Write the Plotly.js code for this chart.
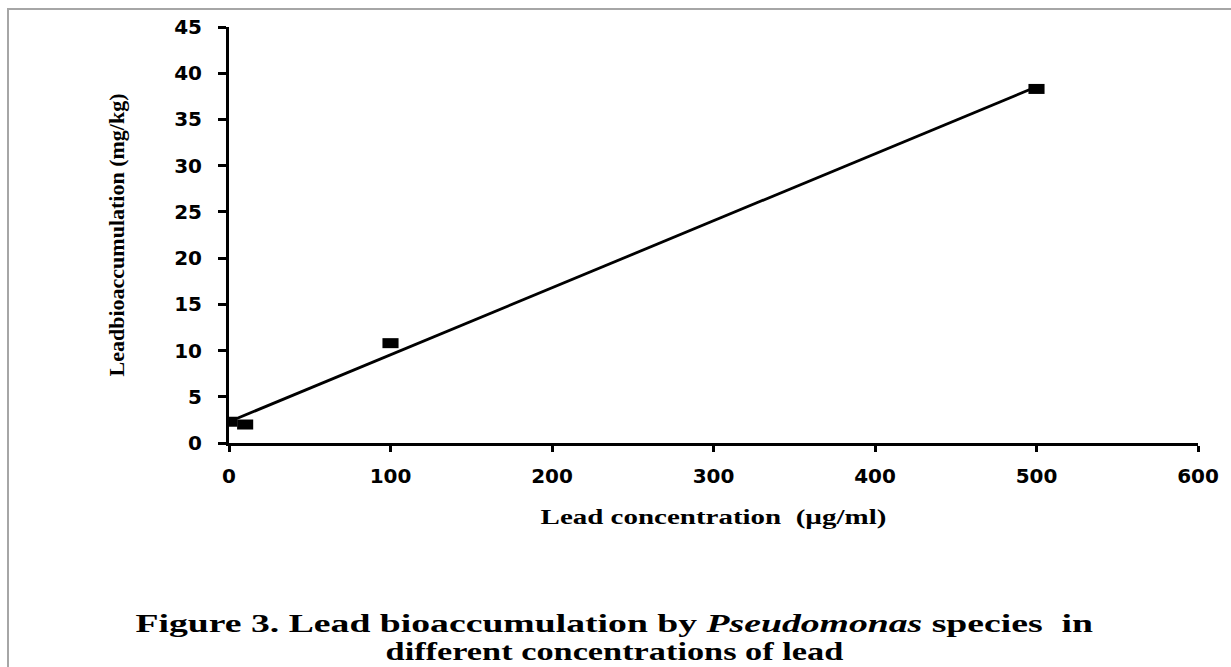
<!DOCTYPE html>
<html>
<head>
<meta charset="utf-8">
<script src="https://cdn.plot.ly/plotly-3.0.1.min.js"></script>
<style>
  html, body { margin: 0; padding: 0; background: #fff; }
  #wrap { position: relative; width: 1231px; height: 667px; }
  #frame { position: absolute; left: 7px; top: 8px; width: 1230px; height: 670px;
           border-left: 2px solid #a6a6a6; border-top: 2px solid #a6a6a6; pointer-events: none; }
  #chart { position: absolute; left: 0; top: 0; width: 1231px; height: 667px; }
  /* the reference is horizontally stretched; widen horizontal texts */
  #chart .xtitle, #chart .annotation-text {
    transform-box: fill-box; transform-origin: center; transform: scaleX(1.45);
  }
  #chart g.annotation[data-index="1"] .annotation-text { transform: scaleX(1.32); }
</style>
</head>
<body>
<div id="wrap">
  <div id="chart"></div>
  <div id="frame"></div>
</div>
<script>
// Data
const leadConcentration = [0, 10, 100, 500];          // µg/ml
const leadBioaccumulation = [2.3, 2.0, 10.8, 38.3];   // mg/kg

const xTickVals = [0, 100, 200, 300, 400, 500, 600];
const yTickVals = [0, 5, 10, 15, 20, 25, 30, 35, 40, 45];

const captionLines = [
  'Figure 3. Lead bioaccumulation by <i>Pseudomonas</i> species  in',
  'different concentrations of lead'
];

// Linear trendline (least squares) through the data
function linFit(xs, ys) {
  const n = xs.length;
  const mx = xs.reduce((a, b) => a + b, 0) / n;
  const my = ys.reduce((a, b) => a + b, 0) / n;
  let sxy = 0, sxx = 0;
  for (let i = 0; i < n; i++) { sxy += (xs[i] - mx) * (ys[i] - my); sxx += (xs[i] - mx) ** 2; }
  const b = sxy / sxx;
  return { slope: b, intercept: my - b * mx };
}
const fit = linFit(leadConcentration, leadBioaccumulation);
const trendX = [Math.min(...leadConcentration), Math.max(...leadConcentration)];
const trendY = trendX.map(x => fit.intercept + fit.slope * x);

const traces = [
  {
    x: trendX, y: trendY, type: 'scatter', mode: 'lines',
    line: { color: '#000', width: 2.8 }, hoverinfo: 'skip', showlegend: false
  },
  {
    x: leadConcentration, y: leadBioaccumulation, type: 'scatter', mode: 'markers',
    marker: { symbol: 'line-ew', size: 11.5, color: '#000', line: { color: '#000', width: 10 } },
    showlegend: false
  }
];

const tickFont = { family: 'DejaVu Sans, Verdana, sans-serif', size: 20, color: '#000', weight: 'bold' };
const serif = 'Liberation Serif, Times New Roman, serif';

const layout = {
  width: 1231, height: 667,
  margin: { l: 229, r: 33, t: 27, b: 224 },
  paper_bgcolor: 'rgba(0,0,0,0)', plot_bgcolor: 'rgba(0,0,0,0)',
  xaxis: {
    range: [0, 600], tickvals: xTickVals, ticktext: xTickVals.map(String),
    showgrid: false, zeroline: false, showline: true, linecolor: '#000', linewidth: 3,
    ticks: 'outside', ticklen: 6, tickwidth: 3, tickcolor: '#000',
    tickfont: tickFont,
    ticklabelstandoff: 7,
    title: { text: 'Lead concentration  (µg/ml)', standoff: 24,
             font: { family: serif, size: 20, color: '#000', weight: 'bold' } }
  },
  yaxis: {
    range: [0, 45], tickvals: yTickVals, ticktext: yTickVals.map(String),
    showgrid: false, zeroline: false, showline: true, linecolor: '#000', linewidth: 3,
    ticks: 'outside', ticklen: 8, tickwidth: 3, tickcolor: '#000',
    tickfont: tickFont,
    ticklabelstandoff: 12,
    title: { text: 'Leadbioaccumulation (mg/kg)', standoff: 44,
             font: { family: serif, size: 22, color: '#000', weight: 'bold' } }
  },
  annotations: captionLines.map((t, i) => ({
    xref: 'paper', yref: 'paper', x: 0.3983, y: [-0.4327, -0.5][i],
    xanchor: 'center', yanchor: 'middle', showarrow: false, text: t,
    font: { family: serif, size: 26, color: '#000', weight: 'bold' }
  }))
};

Plotly.newPlot('chart', traces, layout, { displayModeBar: false, staticPlot: true });
</script>
</body>
</html>
